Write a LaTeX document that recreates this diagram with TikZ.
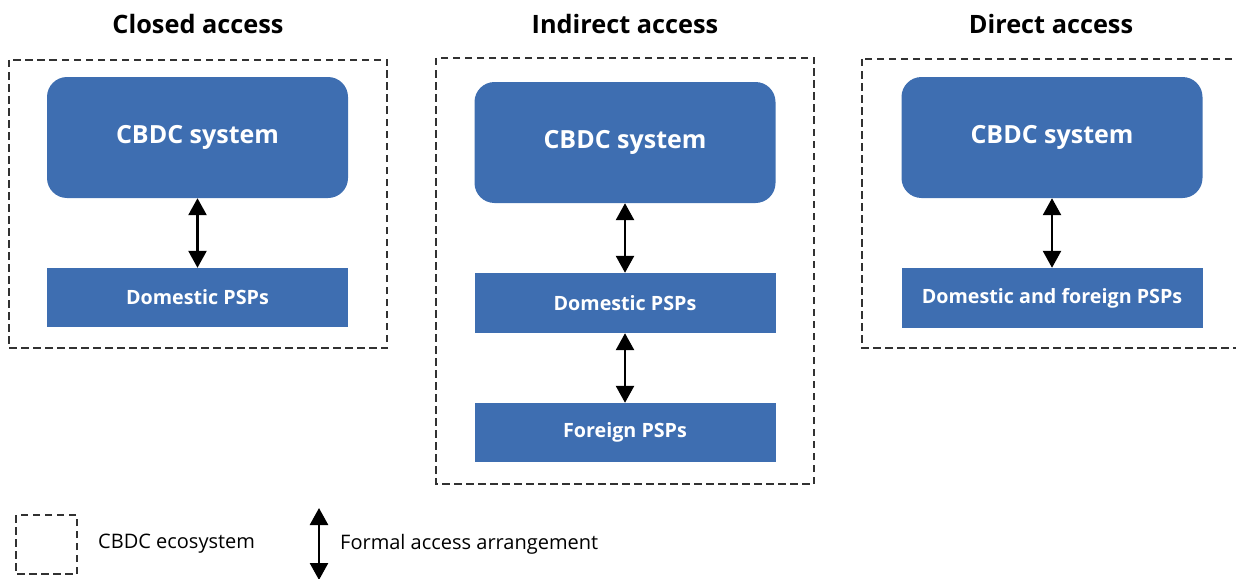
\documentclass[tikz,border=0pt]{standalone}
\usepackage{fontspec}
\setmainfont{Open Sans}
\usetikzlibrary{arrows.meta}
\definecolor{boxblue}{RGB}{62,110,177}
\definecolor{dashgray}{RGB}{50,50,50}
\tikzset{
  sysbox/.style={fill=boxblue, text=white, inner sep=0pt, rounded corners=20pt,
    minimum width=301pt, minimum height=121pt,
    font=\bfseries\fontsize{25}{30}\selectfont},
  pspbox/.style={fill=boxblue, text=white, inner sep=0pt,
    minimum width=301pt, minimum height=59pt,
    font=\bfseries\fontsize{19.7}{24}\selectfont},
  ecobox/.style={draw=dashgray, line width=2.6pt, dash pattern=on 7.5pt off 4.5pt},
  heading/.style={inner sep=0pt, font=\bfseries\fontsize{25.3}{30}\selectfont},
  legendtext/.style={inner sep=0pt, anchor=west, font=\fontsize{20}{24}\selectfont},
  access/.style={line width=2.6pt, {Triangle[width=18pt,length=17pt]}-{Triangle[width=18pt,length=17pt]}}
}
\begin{document}
\begin{tikzpicture}[x=1pt,y=-1pt]
\useasboundingbox (0,0) rectangle (1236,578);
\clip (0,0) rectangle (1236,578);

% ecosystem frames
\draw[ecobox] (9,60) rectangle (387,348);
\draw[ecobox] (436,58) rectangle (814,484);
\draw[ecobox] (862,59) rectangle (1250,348);

% headings
\node[heading] (h1) at (198,24) {Closed access};
\node[heading] (h2) at (625,24) {Indirect access};
\node[heading] (h3) at (1051,24) {Direct access};

% closed access
\node[sysbox] (c1) at (197.5,137.5) {CBDC system};
\node[pspbox] (d1) at (197.5,297.5) {Domestic PSPs};
\draw[access] (c1.south) -- (d1.north);

% indirect access
\node[sysbox] (c2) at (625,142.5) {CBDC system};
\node[pspbox, minimum height=60pt] (d2) at (625,303) {Domestic PSPs};
\node[pspbox] (f2) at (625,432.5) {Foreign PSPs};
\draw[access] (c2.south) -- (d2.north);
\draw[access] (d2.south) -- (f2.north);

% direct access
\node[sysbox] (c3) at (1052,137.5) {CBDC system};
\node[pspbox, minimum height=60pt] (d3) at (1052,298) {Domestic and foreign PSPs};
\draw[access] (c3.south) -- (d3.north);

% legend
\draw[ecobox] (16,515) rectangle (77,574);
\node[legendtext] (l1) at (98,544) {CBDC ecosystem};
\coordinate (la) at (319,508);
\coordinate (lb) at (319,580);
\draw[access] (la) -- (lb);
\node[legendtext] (l2) at (340,544) {Formal access arrangement};
\end{tikzpicture}
\end{document}
